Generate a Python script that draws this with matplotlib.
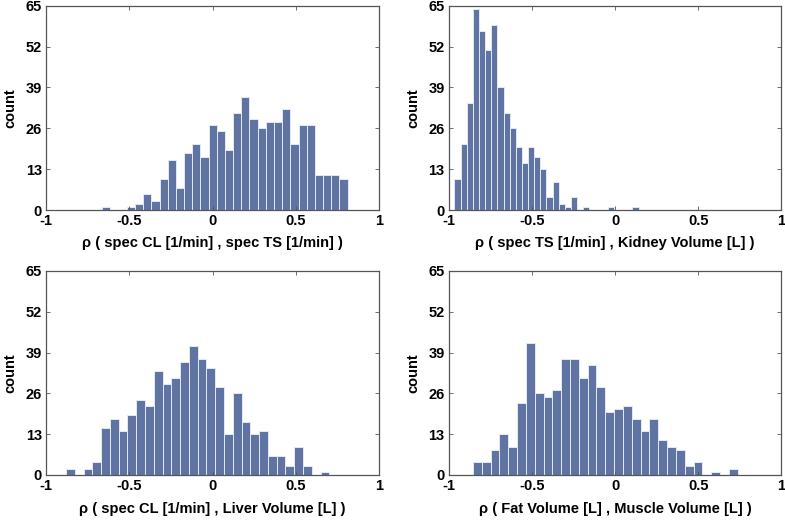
import numpy as np
import matplotlib
matplotlib.use("Agg")
import matplotlib.pyplot as plt

plt.rcParams['font.family'] = ['Liberation Sans', 'DejaVu Sans']

# counts per bin (30 bins each)
counts1 = [1, 0, 0, 1, 2, 5, 3, 10, 16, 7, 18, 21, 17, 27, 25, 19, 31, 36, 29, 26,
           28, 28, 32, 21, 27, 27, 11, 11, 11, 10]
counts2 = [10, 21, 34, 64, 57, 51, 59, 39, 31, 26, 20, 15, 20, 17, 13, 4, 9, 2, 1, 4,
           0, 1, 0, 0, 0, 1, 0, 0, 0, 1]
counts3 = [2, 0, 2, 4, 15, 18, 14, 19, 24, 22, 33, 29, 31, 36, 41, 37, 34, 28, 13, 26,
           17, 13, 14, 6, 6, 3, 9, 3, 0, 1]
counts4 = [4, 4, 8, 13, 9, 23, 42, 26, 25, 27, 37, 37, 31, 35, 28, 20, 21, 22, 18, 14,
           18, 11, 9, 8, 3, 4, 0, 1, 0, 2]

# histogram ranges (data min / max of each correlation sample)
ranges = [(-0.6625, 0.81), (-0.9655, 0.1415), (-0.880, 0.700), (-0.8545, 0.738)]

xlabels = [
    "\u03c1 ( spec CL [1/min] , spec TS [1/min] )",
    "\u03c1 ( spec TS [1/min] , Kidney Volume [L] )",
    "\u03c1 ( spec CL [1/min] , Liver Volume [L] )",
    "\u03c1 ( Fat Volume [L] , Muscle Volume [L] )",
]
xticks = [-1, -0.5, 0, 0.5, 1]
xticklabels = ["-1", "-0.5", "0", "0.5", "1"]
yticks = [0, 13, 26, 39, 52, 65]

bar_color = "#6074a3"
spine_color = "#555555"

fig = plt.figure(figsize=(7.85, 5.2), dpi=100)
W, H = 785.0, 520.0
boxes = [(46, 5.7, 379.3, 210), (448.7, 5.7, 781.3, 210),
         (46, 271, 379.3, 475), (448.7, 271, 781.3, 475)]

all_counts = [counts1, counts2, counts3, counts4]
for i, (cnt, rng, xl, box) in enumerate(zip(all_counts, ranges, xlabels, boxes)):
    l, t, r, b = box
    ax = fig.add_axes([l / W, 1 - b / H, (r - l) / W, (b - t) / H])
    edges = np.linspace(rng[0], rng[1], len(cnt) + 1)
    centers = 0.5 * (edges[:-1] + edges[1:])
    width = edges[1] - edges[0]
    ax.bar(centers, cnt, width=width, color=bar_color, edgecolor="#e4e9f3",
           linewidth=0.7, align='center')
    ax.set_xlim(-1, 1)
    ax.set_ylim(0, 65)
    ax.set_xticks(xticks)
    ax.set_xticklabels(xticklabels)
    ax.set_yticks(yticks)
    ax.tick_params(direction='in', length=3, width=0.6, color=spine_color,
                   top=True, right=True, labelsize=10.5, pad=3)
    for lab in ax.get_xticklabels() + ax.get_yticklabels():
        lab.set_fontweight('bold')
    for sp in ax.spines.values():
        sp.set_color(spine_color)
        sp.set_linewidth(0.9)
    ax.set_xlabel(xl, fontsize=10.5, fontweight='bold', labelpad=6)
    ax.set_ylabel("count", fontsize=10.5, fontweight='bold', labelpad=6)

fig.savefig("out.png", dpi=100)
